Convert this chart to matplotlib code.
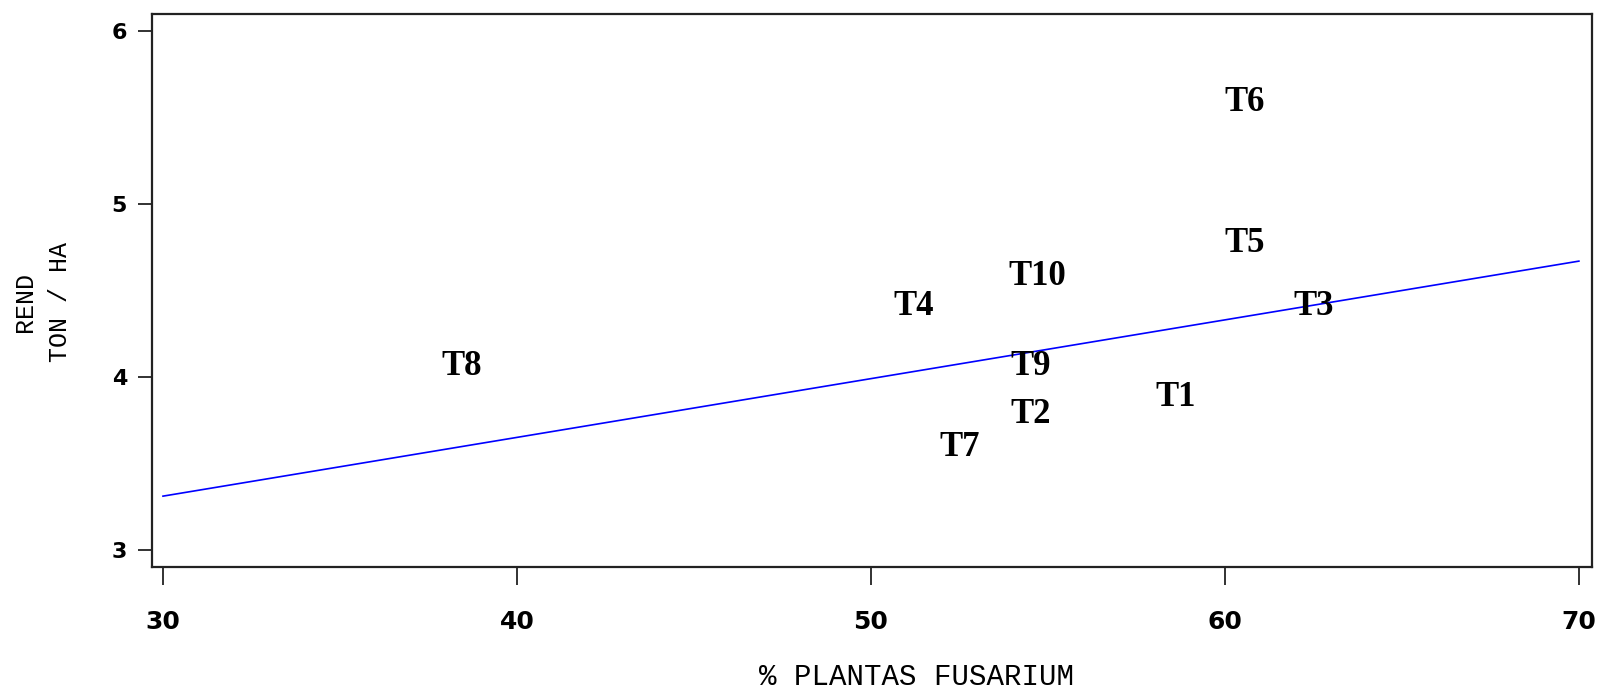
import numpy as np
import matplotlib
matplotlib.use("Agg")
from matplotlib import pyplot as plt

# treatment labels with % plants with fusarium and yield (ton/ha)
treatments = ['T1', 'T2', 'T3', 'T4', 'T5', 'T6', 'T7', 'T8', 'T9', 'T10']
fusarium_pct = [58.6, 54.5, 62.5, 51.2, 60.55, 60.55, 52.5, 38.45, 54.5, 54.7]
rend_ton_ha = [3.88, 3.78, 4.41, 4.41, 4.77, 5.59, 3.59, 4.06, 4.06, 4.58]

# fitted line shown on the chart (intercept, slope)
fit_intercept = 2.29
fit_slope = 0.034
x_ticks = [30, 40, 50, 60, 70]
y_ticks = [3, 4, 5, 6]

px = 1 / 100
fig = plt.figure(figsize=(1601 * px, 690 * px), dpi=100)
ax = fig.add_axes([152 / 1601, 1 - 567 / 690, 1440 / 1601, 553 / 690])

x_line = np.array([30, 70])
ax.plot(x_line, fit_intercept + fit_slope * x_line, color='#0000ff', lw=1.2)

for name, x, y in zip(treatments, fusarium_pct, rend_ton_ha):
    ax.text(x, y, name, ha='center', va='center', fontsize=25,
            family='Liberation Serif', fontweight='bold', color='black')

ax.set_xlim(29.69, 70.37)
ax.set_ylim(2.9, 6.1)
ax.set_xticks(x_ticks)
ax.set_yticks(y_ticks)

for sp in ax.spines.values():
    sp.set_linewidth(1.6)
    sp.set_color('#222222')

ax.tick_params(axis='x', direction='out', length=13, width=1.3, pad=18,
               labelsize=18, colors='#222222')
ax.tick_params(axis='y', direction='out', length=10, width=1.3, pad=8,
               labelsize=16, colors='#222222')
for lab in ax.get_xticklabels() + ax.get_yticklabels():
    lab.set_fontweight('bold')
    lab.set_family('DejaVu Sans')
    lab.set_color('black')

ax.set_xlabel('% PLANTAS FUSARIUM', family='Liberation Mono', fontsize=21)
ax.xaxis.set_label_coords(0.531, -0.199)
ax.xaxis.label.set_va('center')

ax.set_ylabel('REND\nTON / HA', family='Liberation Mono', fontsize=18,
              linespacing=1.55, multialignment='center')
ax.yaxis.set_label_coords(-0.076, 0.48)
ax.yaxis.label.set_va('center')

fig.savefig('out.png', dpi=100, facecolor='white')
